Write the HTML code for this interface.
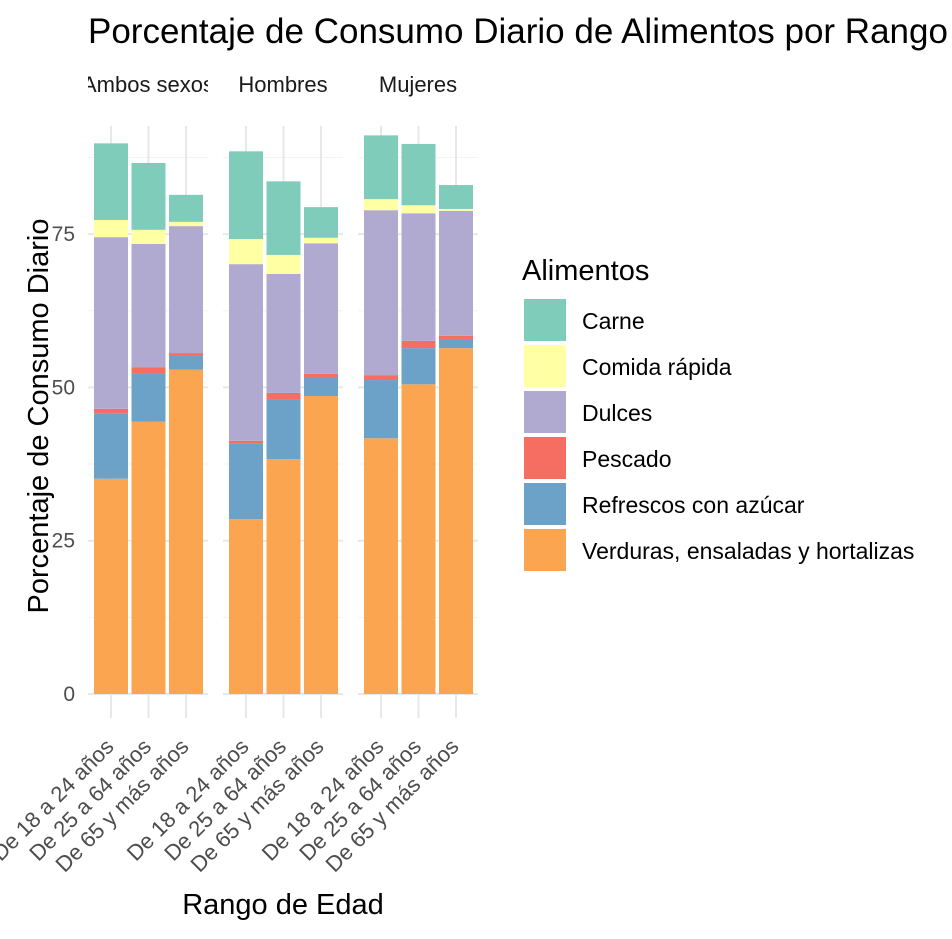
<!DOCTYPE html>
<html><head><meta charset="utf-8"><style>
body{margin:0;background:#fff;width:952px;height:934px;overflow:hidden}
svg{font-family:"Liberation Sans",Arial,sans-serif}
</style></head><body>
<svg id="chart" width="952" height="934" viewBox="0 0 952 934">
<defs>
<clipPath id="cp0"><rect x="88" y="60" width="120" height="50"/></clipPath>
<clipPath id="cp1"><rect x="223" y="60" width="120" height="50"/></clipPath>
<clipPath id="cp2"><rect x="358" y="60" width="120" height="50"/></clipPath>
</defs>
<text x="88" y="43" font-size="35" fill="#000">Porcentaje de Consumo Diario de Alimentos por Rango de Edad y Sexo</text>
<g id="grid"></g>
<g id="bars"></g>
<g id="labels"></g>
<text transform="translate(48,416) rotate(-90)" text-anchor="middle" font-size="29" fill="#000">Porcentaje de Consumo Diario</text>
<text x="283" y="914" text-anchor="middle" font-size="29" fill="#000">Rango de Edad</text>
<g id="legend">
<text x="522" y="280" font-size="29" fill="#000">Alimentos</text>
</g>
</svg>
<script>
const panels = ["Ambos sexos","Hombres","Mujeres"];
const ages = ["De 18 a 24 años","De 25 a 64 años","De 65 y más años"];
const foods = ["Verduras, ensaladas y hortalizas","Refrescos con azúcar","Pescado","Dulces","Comida rápida","Carne"];
const legendOrder = ["Carne","Comida rápida","Dulces","Pescado","Refrescos con azúcar","Verduras, ensaladas y hortalizas"];
const colors = {"Carne":"#7fccbb","Comida rápida":"#ffffa3","Dulces":"#b1aad0","Pescado":"#f66d62","Refrescos con azúcar":"#6da2c8","Verduras, ensaladas y hortalizas":"#fba550"};
// values per panel per age, in order of foods (bottom to top)
const ambosVals = [[35.1,10.7,0.7,28.0,2.8,12.5],[44.4,7.8,1.1,20.1,2.3,10.9],[52.9,2.3,0.4,20.7,0.7,4.4]];
const hombresVals = [[28.5,12.3,0.5,28.8,4.1,14.3],[38.3,9.8,1.0,19.4,3.1,12.0],[48.6,3.1,0.5,21.3,0.9,5.0]];
const mujeresVals = [[41.7,9.5,0.8,26.9,1.8,10.4],[50.5,5.9,1.2,20.8,1.3,10.0],[56.4,1.5,0.5,20.4,0.3,3.9]];
const yTicks = [0,25,50,75];
const yMinor = [12.5,37.5,62.5,87.5];

const NS="http://www.w3.org/2000/svg";
const allVals=[ambosVals,hombresVals,mujeresVals];
const y0=694, pxPer=153.3/25;
const yScale=v=>y0-v*pxPer;
const panelX=p=>88+p*135;
const barX=(p,i)=>panelX(p)+23+i*37.5;
const bw=34;
function mk(tag,attrs,parent){const e=document.createElementNS(NS,tag);for(const k in attrs)e.setAttribute(k,attrs[k]);parent.appendChild(e);return e;}
const grid=document.getElementById('grid'),bars=document.getElementById('bars'),labels=document.getElementById('labels');
panels.forEach((pn,p)=>{
  const x0=panelX(p),x1=x0+120;
  yMinor.forEach(t=>{const l=mk('line',{x1:x0,x2:x1,y1:yScale(t),y2:yScale(t),stroke:'#f3f3f3','stroke-width':1},grid);
    
    });
  yTicks.forEach(t=>{const l=mk('line',{x1:x0,x2:x1,y1:yScale(t),y2:yScale(t),stroke:'#e8e8e8','stroke-width':2},grid);
    
    });
  ages.forEach((a,i)=>{const cx=barX(p,i);const l=mk('line',{x1:cx,x2:cx,y1:yScale(0)+24,y2:yScale(91)-10,stroke:'#e8e8e8','stroke-width':2},grid);
    
    });
  const st=mk('text',{x:x0+60,y:92,'text-anchor':'middle','font-size':22,fill:'#1a1a1a','clip-path':'url(#cp'+p+')'},labels);
  st.textContent=pn;
  
  
  ages.forEach((a,i)=>{
    let cum=0;const cx=barX(p,i);
    allVals[p][i].forEach((v,f)=>{
      const r=mk('rect',{x:cx-bw/2,y:yScale(cum+v),width:bw,height:v*pxPer,fill:colors[foods[f]]},bars);
      
      
      cum+=v;
    });
    const t=mk('text',{transform:`translate(${cx+4},748) rotate(-45)`,'text-anchor':'end','font-size':22,fill:'#4d4d4d'},labels);
    t.textContent=a;
    
    
  });
});
yTicks.forEach(t=>{const e=mk('text',{x:75,y:yScale(t)+7,'text-anchor':'end','font-size':21,fill:'#4d4d4d'},labels);
  e.textContent=t;
  
  });
const lg=document.getElementById('legend');
legendOrder.forEach((f,k)=>{
  const yy=299+k*46;
  const r=mk('rect',{x:524,y:yy,width:42,height:42,fill:colors[f]},lg);
  
  
  const t=mk('text',{x:582,y:yy+30,'font-size':23,fill:'#000'},lg);
  t.textContent=f;
  
  
});
</script>
</body></html>
